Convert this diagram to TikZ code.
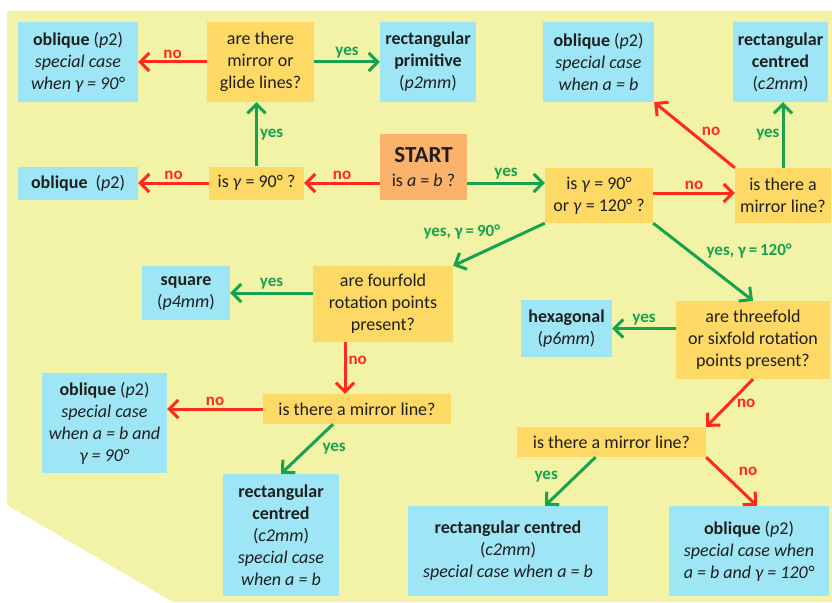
\documentclass[tikz,border=0pt]{standalone}
\usepackage{fontspec}
\setmainfont{Carlito}
\usepackage{tikz}
\usetikzlibrary{arrows.meta}
\definecolor{bgyellow}{HTML}{F2F3A6}
\definecolor{resblue}{HTML}{9EE6F5}
\definecolor{quesyellow}{HTML}{FFD966}
\definecolor{startorange}{HTML}{FBB36C}
\definecolor{arrred}{HTML}{FF2A1A}
\definecolor{arrgreen}{HTML}{16A34F}

\begin{document}
\begin{tikzpicture}[x=1pt, y=-1pt,
	every node/.style={font=\fontsize{18}{22}\selectfont, align=center, inner sep=0pt, text=black!88},
	res/.style={fill=resblue},
	ques/.style={fill=quesyellow},
	startbox/.style={fill=startorange},
	yesarr/.style={draw=arrgreen, line width=3pt, -{Straight Barb[length=9pt,width=18pt]}},
	noarr/.style={draw=arrred, line width=3pt, -{Straight Barb[length=9pt,width=18pt]}},
	yeslab/.style={text=arrgreen, font=\fontsize{17}{20}\selectfont\bfseries, inner sep=2pt},
	nolab/.style={text=arrred, font=\fontsize{17}{20}\selectfont\bfseries, inner sep=2pt}]
			\useasboundingbox (0,0) rectangle (832,602);
			\fill[bgyellow] (7,11) -- (832,11) -- (832,602) -- (173,602) -- (7,505) -- cycle;
			% Boxes
			\node[res, minimum width=120, minimum height=80] (obl1) at (78,62) {\textbf{oblique} (\textit{p}2)\\\textit{special case}\\\textit{when γ = 90°}};
			\node[ques, minimum width=107, minimum height=80] (qglide) at (260.5,62) {are there\\mirror or\\glide lines?};
			\node[res, minimum width=96, minimum height=80] (rprim) at (428,62) {\textbf{rectangular}\\\textbf{primitive}\\(\textit{p2mm})};
			\node[res, minimum width=111, minimum height=80] (oblab) at (598.5,62) {\textbf{oblique} (\textit{p}2)\\\textit{special case}\\\textit{when a = b}};
			\node[res, minimum width=95, minimum height=80] (rcent) at (780.5,62) {\textbf{rectangular}\\\textbf{centred}\\(\textit{c2mm})};
			\node[res, minimum width=120, minimum height=33] (obl2) at (78,183) {\textbf{oblique}\ \ (\textit{p}2)};
			\node[ques, minimum width=95, minimum height=33] (qgam) at (256.5,183) {is \textit{γ} = 90° ?};
			\node[startbox, minimum width=87, minimum height=66] (start) at (423.5,167) {{\fontsize{23}{26}\selectfont\bfseries START}\\[2pt]is \textit{a} = \textit{b} ?};
			\node[ques, minimum width=108, minimum height=55] (q90) at (599,195.5) {is \textit{γ} = 90°\\or \textit{γ} = 120° ?};
			\node[ques, minimum width=96, minimum height=55] (qmirA) at (783,195.5) {is there a\\mirror line?};
			\node[res, minimum width=88, minimum height=54] (square) at (186,293) {\textbf{square}\\(\textit{p4mm})};
			\node[ques, minimum width=140, minimum height=76] (qfour) at (383,304) {are fourfold\\rotation points\\present?};
			\node[res, minimum width=125, minimum height=100] (obl3) at (104.5,423) {\textbf{oblique} (\textit{p}2)\\\textit{special case}\\\textit{when a = b and}\\\textit{γ = 90°}};
			\node[ques, minimum width=188, minimum height=30] (qmirB) at (357,409) {is there a mirror line?};
			\node[res, minimum width=116, minimum height=122] (rcentB) at (281,535) {\textbf{rectangular}\\\textbf{centred}\\(\textit{c2mm})\\\textit{special case}\\\textit{when a = b}};
			\node[res, minimum width=91, minimum height=57] (hexa) at (566.5,328.5) {\textbf{hexagonal}\\(\textit{p6mm})};
			\node[ques, minimum width=154, minimum height=78] (qthree) at (753,340) {are threefold\\or sixfold rotation\\points present?};
			\node[ques, minimum width=189, minimum height=30] (qmirC) at (611.5,442) {is there a mirror line?};
			\node[res, minimum width=200, minimum height=90] (rcentC) at (508,551) {\textbf{rectangular centred}\\(\textit{c2mm})\\\textit{special case when a = b}};
			\node[res, minimum width=160, minimum height=90] (oblC) at (749,551) {\textbf{oblique} (\textit{p}2)\\\textit{special case when}\\\textit{a = b and γ = 120°}};
			% Arrows with labels
			\draw[noarr] (qglide) -- (obl1) node[midway, above, nolab] {no};
			\draw[yesarr] (qglide) -- (rprim) node[midway, above, yeslab] {yes};
			\draw[yesarr] (qgam.north) -- (qgam.north |- qglide.south) node[midway, right, yeslab] {yes};
			\draw[noarr] (qgam -| start.west) -- (qgam.east) node[midway, above, nolab] {no};
			\draw[noarr] (qgam) -- (obl2) node[midway, above, nolab] {no};
			\draw[yesarr] (qgam -| start.east) -- (qgam -| q90.west) node[midway, above, yeslab] {yes};
			\draw[noarr] ([yshift=2.5pt]q90.east) -- ([yshift=2.5pt]qmirA.west) node[midway, above, nolab] {no};
			\draw[noarr] (qmirA.north west) -- (oblab.south east) node[pos=0.55, right=8pt, nolab] {no};
			\draw[yesarr] (qmirA.north) -- (qmirA.north |- rcent.south) node[midway, left, yeslab] {yes};
			\draw[yesarr] (q90.south west) -- (qfour.north east) node[pos=0.45, above left=0pt, yeslab] {yes, γ\,=\,90°};
			\draw[yesarr] (q90.south east) -- (qthree.north) node[pos=0.5, above right=0pt, yeslab] {yes, γ\,=\,120°};
			\draw[yesarr] (qfour.west |- square) -- (square.east) node[midway, above, yeslab] {yes};
			\draw[noarr] ([xshift=-38pt]qfour.south) -- ([xshift=-12pt]qmirB.north) node[pos=0.35, right, nolab] {no};
			\draw[noarr] (qmirB.west) -- (qmirB.west -| obl3.east) node[midway, above, nolab] {no};
			\draw[yesarr] ([xshift=-24pt]qmirB.south) -- (rcentB.north) node[midway, right=12pt, yeslab] {yes};
			\draw[yesarr] (qthree.west |- hexa) -- (hexa.east) node[midway, above, yeslab] {yes};
			\draw[noarr] (qthree.south) -- (qmirC.north east) node[midway, right=4pt, nolab] {no};
			\draw[yesarr] ([xshift=-16pt]qmirC.south) -- ([xshift=37pt]rcentC.north) node[pos=0.4, left=14pt, yeslab] {yes};
			\draw[noarr] (qmirC.south east) -- ([xshift=8pt]oblC.north) node[pos=0.3, right=14pt, nolab] {no};
		\end{tikzpicture}
\end{document}
